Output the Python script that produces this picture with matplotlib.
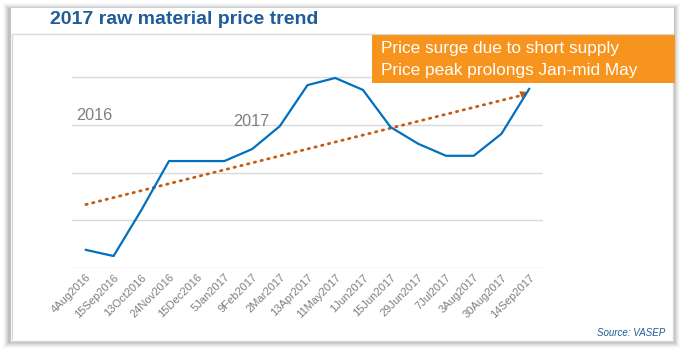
import matplotlib.pyplot as plt
import numpy as np
from matplotlib.patches import Rectangle

plt.rcParams.update({
    "font.family": "Liberation Sans",
})

# Data (relative price index, no y scale shown)
dates = ['4Aug2016', '15Sep2016', '13Oct2016', '24Nov2016', '15Dec2016',
         '5Jan2017', '9Feb2017', '2Mar2017', '13Apr2017', '11May2017',
         '1Jun2017', '15Jun2017', '29Jun2017', '7Jul2017', '3Aug2017',
         '30Aug2017', '14Sep2017']
price = [0.38, 0.25, 1.21, 2.24, 2.24, 2.24, 2.49, 2.97, 3.83, 3.98,
         3.73, 2.95, 2.60, 2.35, 2.35, 2.81, 3.75]

W, H = 683, 351
fig = plt.figure(figsize=(W / 100, H / 100), dpi=100)


def px(x0, y0, x1, y1):
    # pixel box -> figure fraction (left, bottom, width, height)
    return (x0 / W, 1 - y1 / H, (x1 - x0) / W, (y1 - y0) / H)


def box(x0, y0, x1, y1, **kw):
    l, b, w, h = px(x0, y0, x1, y1)
    fig.patches.append(Rectangle((l, b), w, h, transform=fig.transFigure, **kw))


# card shadow + card (kept below the axes)
for i, a in enumerate([0.02, 0.03, 0.04, 0.05, 0.06, 0.07]):
    d = 6 - i
    box(9 - d, 9 - d, 674 + d, 342 + d, facecolor='black', alpha=a,
        edgecolor='none', zorder=-5)
box(11, 8, 674, 342, facecolor='white', edgecolor='none', zorder=-4)
# inner panel border
box(12, 34, 673, 341, facecolor='none', edgecolor='#D9D9D9', lw=1, zorder=-3)

fig.text(184 / W, 1 - 20 / H, '2017 raw material price trend', ha='center',
         va='center', fontsize=14, fontweight='bold', color='#1F5C99')

# main axes
ymax = 4.15
ax = fig.add_axes([72 / W, 1 - 268 / H, 471 / W, ymax * 47.75 / H])
ax.patch.set_alpha(0)
x = np.arange(len(dates))
ax.plot(x, price, color='#0070C0', lw=1.6, zorder=3)

# linear trend
k, c = np.polyfit(x, price, 1)
trend = k * x + c
ax.plot(x, trend, color='#C55A11', lw=2.0, linestyle=(0, (0.5, 2.0)),
        dash_capstyle='round', zorder=2)
ax.annotate('', xy=(x[-1] + 0.05, trend[-1] + 0.05),
            xytext=(x[-1] - 0.5, trend[-1] - 0.5 * k),
            arrowprops=dict(arrowstyle='-|>', color='#C55A11', lw=0,
                            mutation_scale=14), zorder=2)

ax.set_xlim(-0.5, len(dates) - 0.5)
ax.set_ylim(0, ymax)
ax.set_yticks([0, 1, 2, 3, 4])
ax.yaxis.grid(True, color='#D9D9D9', lw=1)
ax.set_axisbelow(True)
for s in ax.spines.values():
    s.set_visible(False)
ax.tick_params(axis='y', length=0, labelleft=False)
ax.tick_params(axis='x', length=0, pad=3)
ax.set_xticks(x)
ax.set_xticklabels(dates, rotation=45, ha='right', rotation_mode='anchor',
                   fontsize=8, color='#7F7F7F')

fig.text(76 / W, 1 - 115 / H, '2016', fontsize=11.7, color='#7F7F7F', va='center')
fig.text(233 / W, 1 - 122 / H, '2017', fontsize=11.7, color='#7F7F7F', va='center')

# callout box
box(372, 35, 675, 83, facecolor='#F7941D', edgecolor='none', zorder=5)
fig.text(381 / W, 1 - 49 / H, 'Price surge due to short supply', fontsize=12.4,
         color='white', va='center', zorder=6)
fig.text(381 / W, 1 - 71 / H, 'Price peak prolongs Jan-mid May', fontsize=12.4,
         color='white', va='center', zorder=6)

fig.text(665 / W, 1 - 333 / H, 'Source: VASEP', fontsize=7, style='italic',
         color='#1F5C99', ha='right', va='center')

plt.savefig('out.png', dpi=100)
